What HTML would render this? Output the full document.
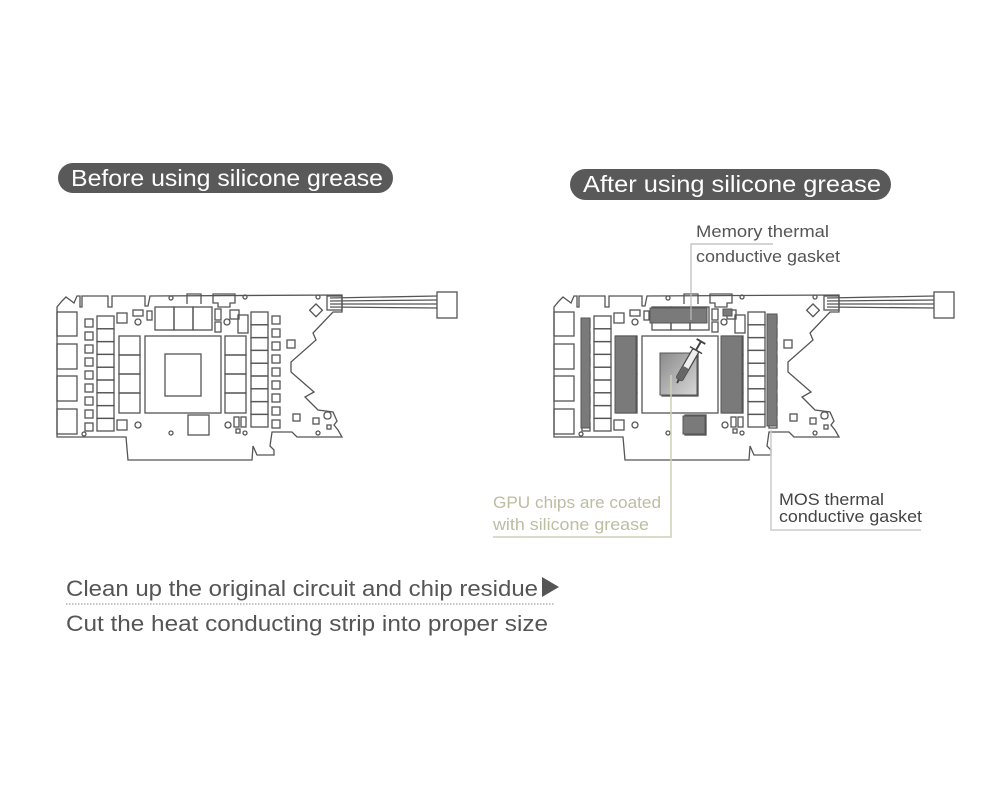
<!DOCTYPE html>
<html><head><meta charset="utf-8"><style>
html,body{margin:0;padding:0;background:#fff;}
svg{display:block;}
text{font-family:"Liberation Sans","DejaVu Sans",sans-serif;}
</style></head><body>
<svg width="1000" height="800" viewBox="0 0 1000 800" xmlns="http://www.w3.org/2000/svg">
<defs>
<linearGradient id="gg" x1="0" y1="0" x2="1" y2="1"><stop offset="0" stop-color="#8a8a8a"/><stop offset="1" stop-color="#d8d8d8"/></linearGradient>
<g id="board" fill="none" stroke="#555" stroke-width="1.3">
<path d="M57,437 L57,307 L62,301 L66,297 L70,300 L74,303 L77,296 L80,296 L80,307 L82,307 L82,296 L108,296 L108,307 L112,307 L112,296 L145,296 L145,306 L148,306 L150,296 L342,295 L342,312 L333,312 L313,333 L316,340 L291,362 L291,372 L314,392 L305,397 L318,410 L333,412 L337,421 L334,425 L338,430 L342,437 L297,437 L292,432 L272,432 L270,446 L274,450 L274,455 L257,455 L253,446 L252,460 L128,460 L126,437 Z"/>
<rect x="327" y="296" width="15" height="14"/>
<line x1="330" y1="298" x2="437" y2="296"/><line x1="330" y1="301" x2="437" y2="300"/><line x1="330" y1="304" x2="437" y2="304"/><line x1="330" y1="307" x2="437" y2="308"/>
<rect x="437" y="292" width="20" height="26"/>
<rect x="57" y="312" width="20" height="24"/><rect x="57" y="344" width="20" height="25"/><rect x="57" y="376" width="20" height="25"/><rect x="57" y="409" width="20" height="25"/>
<g id="sq"><rect x="85" y="319" width="8" height="8"/><rect x="85" y="332" width="8" height="8"/><rect x="85" y="345" width="8" height="8"/><rect x="85" y="358" width="8" height="8"/><rect x="85" y="371" width="8" height="8"/><rect x="85" y="384" width="8" height="8"/><rect x="85" y="397" width="8" height="8"/><rect x="85" y="410" width="8" height="8"/><rect x="85" y="423" width="8" height="8"/></g>
<use href="#sq" x="187" y="-3"/>
<g id="col"><rect x="97" y="316" width="17" height="12.8"/><rect x="97" y="328.8" width="17" height="12.8"/><rect x="97" y="341.6" width="17" height="12.8"/><rect x="97" y="354.4" width="17" height="12.8"/><rect x="97" y="367.2" width="17" height="12.8"/><rect x="97" y="380" width="17" height="12.8"/><rect x="97" y="392.8" width="17" height="12.8"/><rect x="97" y="405.6" width="17" height="12.8"/><rect x="97" y="418.4" width="17" height="12.6"/></g>
<use href="#col" x="154" y="-4"/>
<g id="m4"><rect x="119" y="336" width="21" height="19"/><rect x="119" y="355" width="21" height="19"/><rect x="119" y="374" width="21" height="19"/><rect x="119" y="393" width="21" height="20"/></g>
<use href="#m4" x="106"/>
<rect x="145" y="336" width="76" height="77"/><rect x="165" y="354" width="36" height="42"/>
<rect x="155" y="307" width="19" height="23"/><rect x="174" y="307" width="19" height="23"/><rect x="193" y="307" width="19" height="23"/>
<rect x="117" y="313" width="10" height="10"/><rect x="133" y="310" width="10" height="6"/><rect x="147" y="311" width="5" height="9"/>
<circle cx="138" cy="322" r="3"/><circle cx="138" cy="425" r="3"/><circle cx="227" cy="322" r="3"/><circle cx="228" cy="425" r="3"/>
<circle cx="171" cy="298" r="2"/><circle cx="245" cy="297" r="2"/><circle cx="318" cy="297" r="2"/><circle cx="84" cy="434" r="2"/><circle cx="171" cy="433" r="2"/><circle cx="245" cy="433" r="2"/><circle cx="318" cy="433" r="2"/>
<path d="M187,304 L187,294 L201,294 L201,304 M213,294 L235,294 L235,303 L230,303 L230,307 L218,307 L218,303 L213,303 Z"/>
<rect x="215" y="309" width="6" height="11"/><rect x="215" y="322" width="6" height="10"/><rect x="230" y="310" width="9" height="9"/><rect x="238" y="315" width="10" height="18"/>
<rect x="117" y="420" width="10" height="10"/>
<rect x="188" y="415" width="21" height="20"/><rect x="234" y="417" width="5" height="10"/><rect x="241" y="417" width="5" height="10"/><rect x="236" y="429" width="4" height="4"/>
<rect x="287" y="340" width="8" height="8"/><rect x="293" y="414" width="7" height="7"/><rect x="313" y="418" width="6" height="6"/><rect x="324" y="412" width="7" height="7" rx="3"/><rect x="327" y="425" width="4" height="4"/>
<rect x="311" y="306" width="9" height="9" transform="rotate(45 316 311)"/>
</g>
</defs>

<rect x="58" y="163" width="335" height="30" rx="15" fill="#595959"/>
<text x="71" y="186" font-size="23" fill="#fff" textLength="312" lengthAdjust="spacingAndGlyphs">Before using silicone grease</text>
<rect x="570" y="169" width="321" height="31" rx="15.5" fill="#595959"/>
<text x="583" y="192" font-size="23" fill="#fff" textLength="298" lengthAdjust="spacingAndGlyphs">After using silicone grease</text>

<use href="#board"/>
<g transform="translate(497,0)"><use href="#board"/></g>

<g fill="#7a7a7a" stroke="#555" stroke-width="1">
<rect x="581" y="318" width="9" height="110"/>
<rect x="650" y="308" width="57" height="15"/>
<rect x="615" y="336" width="21" height="77"/>
<rect x="721" y="336" width="21" height="77"/>
<rect x="767" y="314" width="10" height="112"/>
<rect x="683" y="416" width="22" height="18"/>
<rect x="723" y="309" width="9" height="7"/>
</g>
<rect x="660" y="353" width="37" height="42" fill="url(#gg)" stroke="#555"/>
<g transform="translate(677,383) rotate(30)">
<rect x="-3.5" y="-38" width="7" height="34" fill="#eee" stroke="#444" stroke-width="1.2" rx="2"/>
<rect x="-3.5" y="-18" width="7" height="14" fill="#666" rx="2"/>
<line x1="0" y1="-4" x2="0" y2="0" stroke="#444" stroke-width="2"/>
<line x1="-7" y1="-38" x2="7" y2="-38" stroke="#444" stroke-width="1.5"/>
<line x1="0" y1="-38" x2="0" y2="-48" stroke="#444" stroke-width="2"/>
<line x1="-5" y1="-48" x2="5" y2="-48" stroke="#444" stroke-width="2"/>
</g>

<polyline points="773,244 691,244 691,320" fill="none" stroke="#bbb" stroke-width="1.2"/>
<text x="696" y="237" font-size="17" fill="#555" textLength="133" lengthAdjust="spacingAndGlyphs">Memory thermal</text>
<text x="696" y="262" font-size="17" fill="#555" textLength="144" lengthAdjust="spacingAndGlyphs">conductive gasket</text>
<polyline points="671,375 671,537 493,537" fill="none" stroke="#cfcfb8" stroke-width="1.5"/>
<text x="493" y="508" font-size="17" fill="#bdbda2" textLength="168" lengthAdjust="spacingAndGlyphs">GPU chips are coated</text>
<text x="493" y="530" font-size="17" fill="#bdbda2" textLength="156" lengthAdjust="spacingAndGlyphs">with silicone grease</text>
<polyline points="771,430 771,530 921,530" fill="none" stroke="#ccc" stroke-width="1.5"/>
<text x="779" y="505" font-size="17" fill="#444" textLength="105" lengthAdjust="spacingAndGlyphs">MOS thermal</text>
<text x="779" y="522" font-size="17" fill="#444" textLength="143" lengthAdjust="spacingAndGlyphs">conductive gasket</text>

<text x="66" y="596" font-size="22" fill="#555" textLength="472" lengthAdjust="spacingAndGlyphs">Clean up the original circuit and chip residue</text>
<polygon points="542,577 559,587 542,597" fill="#555"/>
<line x1="66" y1="604" x2="555" y2="604" stroke="#888" stroke-width="1" stroke-dasharray="1.5,1.5"/>
<text x="66" y="631" font-size="22" fill="#555" textLength="482" lengthAdjust="spacingAndGlyphs">Cut the heat conducting strip into proper size</text>
</svg>
</body></html>
